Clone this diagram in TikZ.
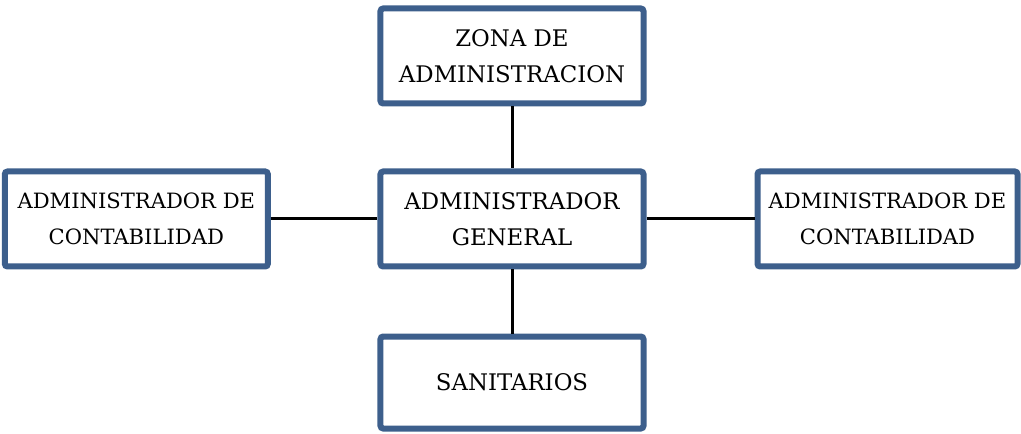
\documentclass[tikz,border=0pt]{standalone}
\usepackage{fontspec}
\setmainfont{DejaVu Serif}
\usetikzlibrary{positioning}
\definecolor{borde}{RGB}{61,95,140}
\tikzset{
  enlace/.style={line width=0.09cm,draw=black},
  caja/.style={draw=borde,line width=0.18cm,rounded corners=0.08cm,fill=white,
    align=center,minimum width=7.89cm,minimum height=2.85cm,inner sep=0pt,
    font=\fontsize{19.5}{30.7}\selectfont},
  lado/.style={caja,font=\fontsize{18}{30.7}\selectfont},
}
\begin{document}
\begin{tikzpicture}[node distance=1.86cm]
\useasboundingbox (-15.36,-6.45) rectangle (15.27,6.57);
\node[caja] (gen) {ADMINISTRADOR\\GENERAL};
\node[caja,above=of gen] (zona) {ZONA DE\\ADMINISTRACION};
\node[lado,left=3.2cm of gen] (contizq) {ADMINISTRADOR DE\\CONTABILIDAD};
\node[lado,right=3.24cm of gen,minimum width=7.8cm] (contder) {ADMINISTRADOR DE\\CONTABILIDAD};
\node[caja,below=1.92cm of gen,minimum height=2.76cm] (sanit) {SANITARIOS};
\foreach \a/\b in {zona/gen,contizq/gen,gen/contder,gen/sanit} \draw[enlace] (\a)--(\b);
\end{tikzpicture}
\end{document}
